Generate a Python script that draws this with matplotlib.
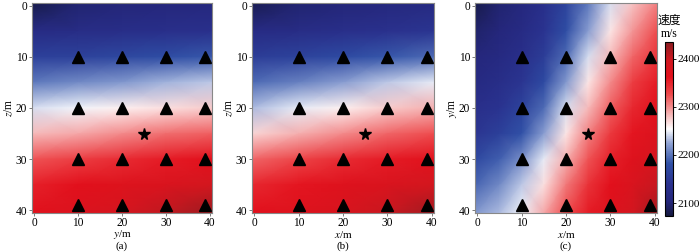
import numpy as np
import matplotlib
matplotlib.use("Agg")
import matplotlib.pyplot as plt
from matplotlib.colors import LinearSegmentedColormap, Normalize

plt.rcParams['font.family'] = ['Liberation Serif', 'Noto Sans CJK SC', 'DejaVu Sans']
plt.rcParams['mathtext.fontset'] = 'stix'
plt.rcParams['font.size'] = 8

# ---- data ----
depth_nodes = [0, 5, 10, 15, 20, 25, 30, 35, 40]          # z (m)
horiz_nodes_ab = [0, 10, 20, 30, 40]                        # y or x (m)
horiz_nodes_c = [0, 5, 10, 15, 20, 25, 30, 35, 40]          # x (m)
y_nodes_c = [0, 5, 10, 15, 20, 25, 30, 35, 40]              # y (m)

# velocity (m/s), panel (a): y-z section
vel_a = [
    [2080, 2098, 2102, 2106, 2109],
    [2120, 2124, 2127, 2131, 2135],
    [2160, 2163, 2171, 2178, 2185],
    [2203, 2211, 2218, 2229, 2236],
    [2243, 2250, 2261, 2268, 2276],
    [2283, 2290, 2301, 2312, 2319],
    [2323, 2334, 2345, 2355, 2363],
    [2352, 2363, 2373, 2381, 2392],
    [2366, 2377, 2388, 2406, 2424],
]
# panel (b): x-z section
vel_b = [
    [2084, 2098, 2102, 2109, 2116],
    [2120, 2124, 2131, 2138, 2145],
    [2156, 2164, 2174, 2185, 2196],
    [2196, 2207, 2221, 2236, 2247],
    [2232, 2247, 2261, 2276, 2287],
    [2272, 2287, 2301, 2316, 2326],
    [2316, 2330, 2345, 2355, 2366],
    [2348, 2359, 2370, 2381, 2392],
    [2363, 2373, 2384, 2402, 2421],
]
# panel (c): x-y plane
vel_c = [
    [2080, 2098, 2109, 2131, 2164, 2203, 2243, 2279, 2305],
    [2095, 2106, 2120, 2142, 2178, 2221, 2265, 2297, 2326],
    [2106, 2116, 2131, 2156, 2196, 2243, 2283, 2316, 2341],
    [2116, 2127, 2145, 2174, 2218, 2265, 2301, 2334, 2355],
    [2131, 2142, 2164, 2196, 2243, 2283, 2319, 2348, 2366],
    [2145, 2160, 2182, 2221, 2265, 2305, 2337, 2359, 2377],
    [2171, 2189, 2214, 2247, 2287, 2323, 2352, 2370, 2388],
    [2192, 2211, 2236, 2268, 2308, 2341, 2363, 2381, 2402],
    [2218, 2232, 2250, 2290, 2326, 2355, 2373, 2392, 2421],
]

station_h = [10, 20, 30, 39]
station_v = [10, 20, 30, 39]
source_h, source_v = 25, 25

vmin, vmax = 2073, 2435
cbar_ticks = [2100, 2200, 2300, 2400]
axis_ticks = [0, 10, 20, 30, 40]

xlabels = ['$y$/m', '$x$/m', '$x$/m']
ylabels = ['$z$/m', '$z$/m', '$y$/m']
panel_tags = ['(a)', '(b)', '(c)']

cmap = LinearSegmentedColormap.from_list('vel', [
    (0.00, '#15193f'),
    (0.08, '#24267a'),
    (0.18, '#2a318e'),
    (0.30, '#2f50a6'),
    (0.42, '#93a6d6'),
    (0.50, '#ffffff'),
    (0.58, '#f6baba'),
    (0.70, '#ee4a4c'),
    (0.80, '#e3101c'),
    (0.90, '#cf1820'),
    (1.00, '#8a1c20'),
])
norm = Normalize(vmin=vmin, vmax=vmax)

fig = plt.figure(figsize=(7.0, 2.52), dpi=100)
W, H = 700, 252
ax_px = [(32, 212), (252, 434), (475, 657)]
top_px, bot_px = 3, 213

fields = [(horiz_nodes_ab, depth_nodes, vel_a),
          (horiz_nodes_ab, depth_nodes, vel_b),
          (horiz_nodes_c, y_nodes_c, vel_c)]

for i, (l, r) in enumerate(ax_px):
    ax = fig.add_axes([l / W, (H - bot_px) / H, (r - l) / W, (bot_px - top_px) / H])
    hn, vn, v = fields[i]
    hx = np.array(hn, dtype=float); hx[0] -= 0.5; hx[-1] += 0.5
    vz = np.array(vn, dtype=float); vz[0] -= 0.5; vz[-1] += 0.5
    X, Y = np.meshgrid(hx, vz)
    ax.pcolormesh(X, Y, np.array(v, dtype=float), shading='gouraud', cmap=cmap, norm=norm)
    HH, VV = np.meshgrid(station_h, station_v)
    ax.plot(HH.ravel(), VV.ravel(), linestyle='none', marker='^', color='black', markersize=8.5)
    ax.plot([source_h], [source_v], linestyle='none', marker='*', color='black', markersize=8.5)
    ax.set_xlim(-0.5, 40.5)
    ax.set_ylim(40.5, -0.5)
    ax.set_xticks(axis_ticks)
    ax.set_yticks(axis_ticks)
    ax.tick_params(axis='x', length=2, width=0.6, pad=1.0, labelsize=8.3, color='#666666')
    ax.tick_params(axis='y', length=2, width=0.6, pad=1.5, labelsize=8.3, color='#666666')
    for s in ax.spines.values():
        s.set_color('#888888')
        s.set_linewidth(0.8)
    ax.set_ylabel(ylabels[i], fontsize=8.3, labelpad=0)
    cx = (l + r) / 2 / W
    fig.text(cx, (H - 234.5) / H, xlabels[i], ha='center', va='center', fontsize=8)
    fig.text(cx, (H - 246.5) / H, panel_tags[i], ha='center', va='center', fontsize=8)

cax = fig.add_axes([665 / W, (H - 216) / H, 8 / W, 174 / H])
sm = matplotlib.cm.ScalarMappable(norm=norm, cmap=cmap)
cb = fig.colorbar(sm, cax=cax, ticks=cbar_ticks)
cb.ax.tick_params(length=2, width=0.6, pad=1.2, labelsize=8.2)
cb.outline.set_linewidth(0.8)
fig.text(669 / W, (H - 20) / H, '速度', ha='center', va='center', fontsize=8.5,
         family=['Noto Sans CJK SC', 'DejaVu Sans'])
fig.text(669 / W, (H - 34) / H, 'm/s', ha='center', va='center', fontsize=8.5)

fig.savefig('out.png', dpi=100)
